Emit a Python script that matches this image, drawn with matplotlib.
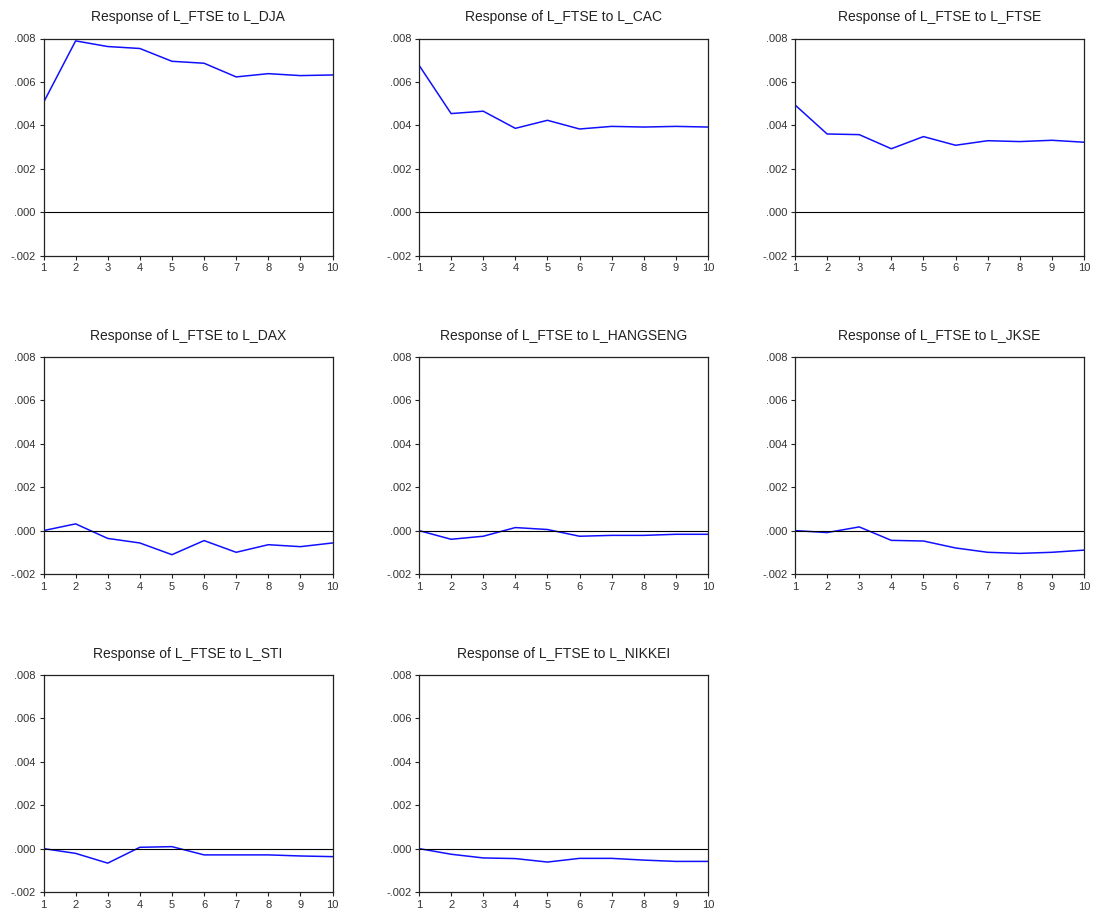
import matplotlib.pyplot as plt
from matplotlib.ticker import FuncFormatter

plt.rcParams['font.family'] = ['Liberation Sans', 'DejaVu Sans']

periods = list(range(1, 11))

titles = [
    'Response of L_FTSE to L_DJA',
    'Response of L_FTSE to L_CAC',
    'Response of L_FTSE to L_FTSE',
    'Response of L_FTSE to L_DAX',
    'Response of L_FTSE to L_HANGSENG',
    'Response of L_FTSE to L_JKSE',
    'Response of L_FTSE to L_STI',
    'Response of L_FTSE to L_NIKKEI',
]

# responses, in units of 0.001
dja = [5.05, 7.89, 7.63, 7.54, 6.95, 6.86, 6.23, 6.38, 6.29, 6.32]
cac = [6.77, 4.54, 4.65, 3.86, 4.23, 3.83, 3.95, 3.92, 3.95, 3.92]
ftse = [4.94, 3.60, 3.57, 2.92, 3.48, 3.08, 3.29, 3.25, 3.31, 3.22]
dax = [0.0, 0.31, -0.36, -0.57, -1.11, -0.46, -1.00, -0.65, -0.74, -0.57]
hangseng = [0.0, -0.40, -0.26, 0.14, 0.05, -0.26, -0.22, -0.22, -0.17, -0.17]
jkse = [0.0, -0.09, 0.17, -0.45, -0.48, -0.80, -1.00, -1.05, -1.00, -0.90]
sti = [0.0, -0.22, -0.67, 0.06, 0.09, -0.29, -0.29, -0.29, -0.34, -0.37]
nikkei = [0.0, -0.26, -0.43, -0.46, -0.62, -0.45, -0.45, -0.53, -0.59, -0.59]

series = [dja, cac, ftse, dax, hangseng, jkse, sti, nikkei]
yticks = [-0.002, 0.0, 0.002, 0.004, 0.006, 0.008]


def fmt(v, pos):
    s = '%.3f' % v
    if s.startswith('-0'):
        return '-' + s[2:]
    if s.startswith('0'):
        return s[1:]
    return s


W, H = 1095, 914
fig = plt.figure(figsize=(W / 100, H / 100), dpi=100)

lefts = [43.5, 419, 795]
tops = [38.5, 357, 675]
aw, ah = 289, 217

for i, (title, vals) in enumerate(zip(titles, series)):
    r, c = divmod(i, 3)
    ax = fig.add_axes([lefts[c] / W, 1 - (tops[r] + ah) / H, aw / W, ah / H])
    ax.plot(periods, [v / 1000 for v in vals], color='#1010ff', lw=1.1)
    ax.axhline(0, color='black', lw=0.8)
    ax.set_xlim(1, 10)
    ax.set_ylim(-0.002, 0.008)
    ax.set_xticks(periods)
    ax.set_yticks(yticks)
    ax.yaxis.set_major_formatter(FuncFormatter(fmt))
    ax.tick_params(direction='out', length=3, width=0.8, labelsize=8, pad=2.5,
                   colors='#222222', labelcolor='#333333')
    for sp in ax.spines.values():
        sp.set_linewidth(0.9)
        sp.set_color('#222222')
    ax.set_title(title, fontsize=10, pad=12.5, color='#222222')

fig.savefig('out.png', dpi=100)
